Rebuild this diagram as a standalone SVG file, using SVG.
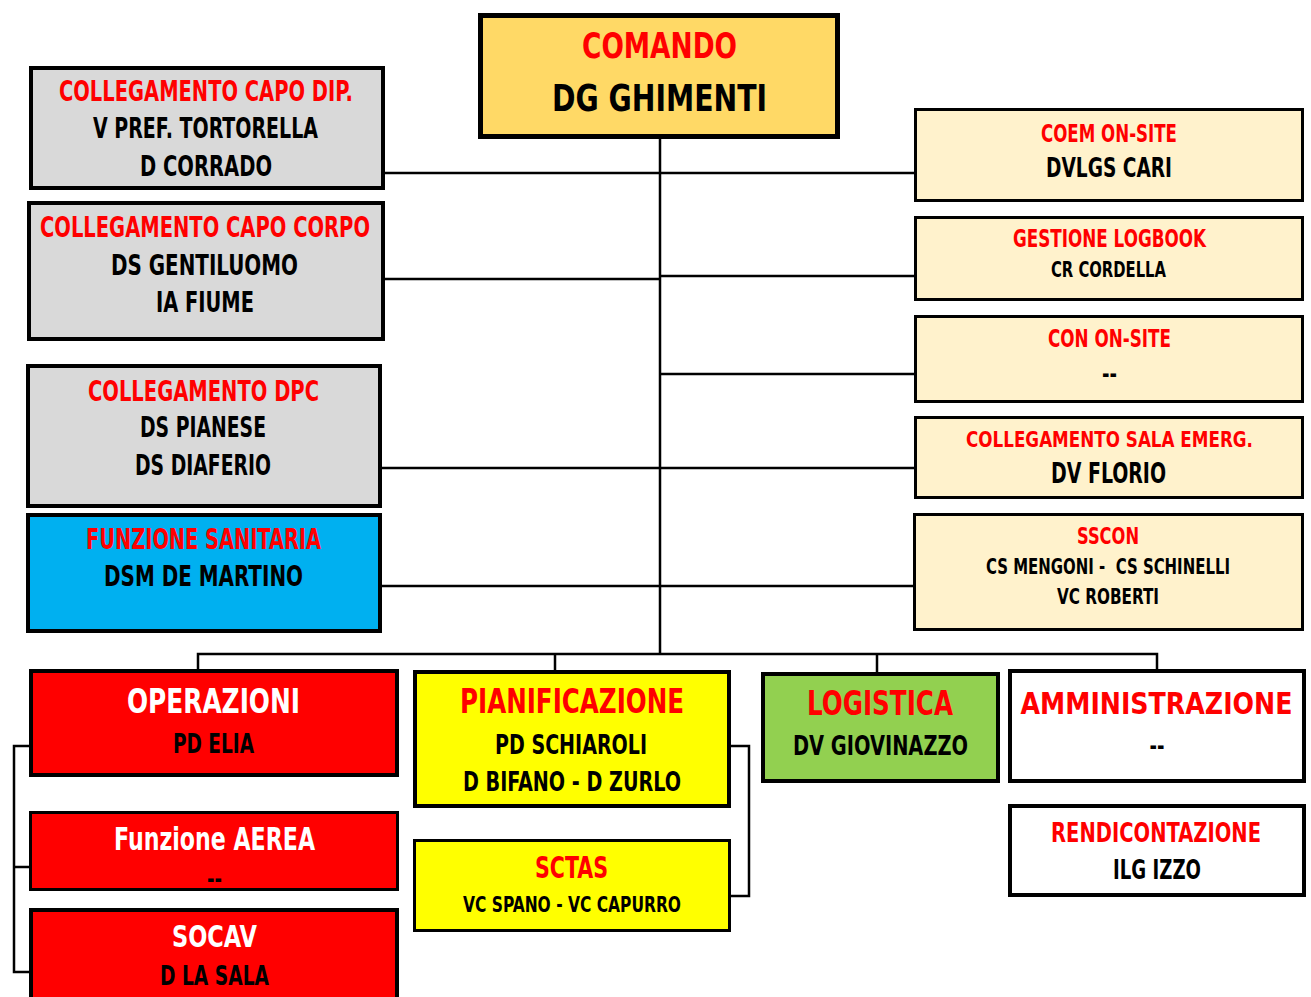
<svg xmlns="http://www.w3.org/2000/svg" width="1311" height="997" viewBox="0 0 1311 997">
<style>
text{font-family:"Liberation Sans Narrow","DejaVu Sans Condensed","Liberation Sans",sans-serif;font-weight:bold;text-anchor:middle}
.r{fill:#FF0000}.k{fill:#000}.w{fill:#FFFFFF}
.b5{stroke:#000;stroke-width:5}.b4{stroke:#000;stroke-width:4}.b3{stroke:#000;stroke-width:3}
.c{stroke:#000;stroke-width:2.5;fill:none}
</style>
<rect width="1311" height="997" fill="#FFFFFF"/>
<g id="connectors">
<path class="c" d="M660 139V654"/>
<path class="c" d="M384 173H660M384 279H660M382 468H660M382 586H660"/>
<path class="c" d="M660 173H914M660 276H914M660 374H914M660 468H914M660 586H913"/>
<path class="c" d="M198 670V654H1157V670M555 654V670M877 654V672"/>
<path class="c" d="M29 746H14V972H29M14 867H29"/>
<path class="c" d="M731 746H749V896H731"/>
</g>
<g id="comando">
<rect class="b5" x="480.5" y="15.5" width="357" height="121" fill="#FFD966"/>
<text class="r" x="659.5" y="58" font-size="35" textLength="155" lengthAdjust="spacingAndGlyphs">COMANDO</text>
<text class="k" x="659.5" y="111" font-size="38" textLength="215" lengthAdjust="spacingAndGlyphs">DG GHIMENTI</text>
</g>
<g id="capo-dip">
<rect class="b4" x="31" y="68" width="352" height="120" fill="#D9D9D9"/>
<text class="r" x="206" y="101" font-size="28" textLength="294" lengthAdjust="spacingAndGlyphs">COLLEGAMENTO CAPO DIP.</text>
<text class="k" x="205.5" y="138" font-size="28" textLength="225" lengthAdjust="spacingAndGlyphs">V PREF. TORTORELLA</text>
<text class="k" x="206" y="176" font-size="28" textLength="132" lengthAdjust="spacingAndGlyphs">D CORRADO</text>
</g>
<g id="capo-corpo">
<rect class="b4" x="29" y="203" width="354" height="136" fill="#D9D9D9"/>
<text class="r" x="205" y="237" font-size="28" textLength="330" lengthAdjust="spacingAndGlyphs">COLLEGAMENTO CAPO CORPO</text>
<text class="k" x="204.5" y="275" font-size="28" textLength="187" lengthAdjust="spacingAndGlyphs">DS GENTILUOMO</text>
<text class="k" x="205" y="312" font-size="28" textLength="98" lengthAdjust="spacingAndGlyphs">IA FIUME</text>
</g>
<g id="dpc">
<rect class="b4" x="28" y="366" width="352" height="140" fill="#D9D9D9"/>
<text class="r" x="203.5" y="401" font-size="28" textLength="231" lengthAdjust="spacingAndGlyphs">COLLEGAMENTO DPC</text>
<text class="k" x="203" y="437" font-size="28" textLength="126" lengthAdjust="spacingAndGlyphs">DS PIANESE</text>
<text class="k" x="203" y="475" font-size="28" textLength="136" lengthAdjust="spacingAndGlyphs">DS DIAFERIO</text>
</g>
<g id="sanitaria">
<rect class="b4" x="28" y="515" width="352" height="116" fill="#00B0F0"/>
<text class="r" x="203.5" y="549" font-size="28" textLength="235" lengthAdjust="spacingAndGlyphs">FUNZIONE SANITARIA</text>
<text class="k" x="203.5" y="586" font-size="28" textLength="199" lengthAdjust="spacingAndGlyphs">DSM DE MARTINO</text>
</g>
<g id="coem">
<rect class="b3" x="915.5" y="109.5" width="387" height="91" fill="#FFF2CC"/>
<text class="r" x="1109" y="142" font-size="24" textLength="136" lengthAdjust="spacingAndGlyphs">COEM ON-SITE</text>
<text class="k" x="1109" y="177" font-size="27" textLength="126" lengthAdjust="spacingAndGlyphs">DVLGS CARI</text>
</g>
<g id="logbook">
<rect class="b3" x="915.5" y="217.5" width="387" height="82" fill="#FFF2CC"/>
<text class="r" x="1109.5" y="247" font-size="24" textLength="193" lengthAdjust="spacingAndGlyphs">GESTIONE LOGBOOK</text>
<text class="k" x="1108.5" y="277" font-size="21" textLength="115" lengthAdjust="spacingAndGlyphs">CR CORDELLA</text>
</g>
<g id="con">
<rect class="b3" x="915.5" y="316.5" width="387" height="85" fill="#FFF2CC"/>
<text class="r" x="1109.5" y="347" font-size="24" textLength="123" lengthAdjust="spacingAndGlyphs">CON ON-SITE</text>
<text class="k" x="1109.5" y="382" font-size="24" textLength="15" lengthAdjust="spacingAndGlyphs">--</text>
</g>
<g id="sala">
<rect class="b3" x="915.5" y="417.5" width="387" height="80" fill="#FFF2CC"/>
<text class="r" x="1109.5" y="447" font-size="22" textLength="287" lengthAdjust="spacingAndGlyphs">COLLEGAMENTO SALA EMERG.</text>
<text class="k" x="1108.5" y="483" font-size="28" textLength="115" lengthAdjust="spacingAndGlyphs">DV FLORIO</text>
</g>
<g id="sscon">
<rect class="b3" x="914.5" y="514.5" width="388" height="115" fill="#FFF2CC"/>
<text class="r" x="1108" y="544" font-size="23" textLength="62" lengthAdjust="spacingAndGlyphs">SSCON</text>
<text class="k" x="1108" y="574" font-size="22" textLength="244" lengthAdjust="spacingAndGlyphs" xml:space="preserve">CS MENGONI -  CS SCHINELLI</text>
<text class="k" x="1108" y="604" font-size="22" textLength="102" lengthAdjust="spacingAndGlyphs">VC ROBERTI</text>
</g>
<g id="operazioni">
<rect class="b4" x="31" y="671" width="366" height="104" fill="#FF0000"/>
<text class="w" x="213.5" y="713" font-size="33" textLength="173" lengthAdjust="spacingAndGlyphs">OPERAZIONI</text>
<text class="k" x="213.5" y="753" font-size="26" textLength="81" lengthAdjust="spacingAndGlyphs">PD ELIA</text>
</g>
<g id="aerea">
<rect class="b3" x="30.5" y="812.5" width="367" height="77" fill="#FF0000"/>
<text class="w" x="214.5" y="850" font-size="32" textLength="201" lengthAdjust="spacingAndGlyphs">Funzione AEREA</text>
<text class="k" x="214.5" y="887" font-size="24" textLength="15" lengthAdjust="spacingAndGlyphs">--</text>
</g>
<g id="socav">
<rect class="b4" x="31" y="910" width="366" height="100" fill="#FF0000"/>
<text class="w" x="214.5" y="947" font-size="30" textLength="85" lengthAdjust="spacingAndGlyphs">SOCAV</text>
<text class="k" x="214.5" y="985" font-size="26" textLength="109" lengthAdjust="spacingAndGlyphs">D LA SALA</text>
</g>
<g id="pianificazione">
<rect class="b4" x="415" y="672" width="314" height="134" fill="#FFFF00"/>
<text class="r" x="572" y="713" font-size="33" textLength="224" lengthAdjust="spacingAndGlyphs">PIANIFICAZIONE</text>
<text class="k" x="571" y="754" font-size="26" textLength="152" lengthAdjust="spacingAndGlyphs">PD SCHIAROLI</text>
<text class="k" x="572" y="791" font-size="26" textLength="218" lengthAdjust="spacingAndGlyphs">D BIFANO - D ZURLO</text>
</g>
<g id="sctas">
<rect class="b3" x="414.5" y="840.5" width="315" height="90" fill="#FFFF00"/>
<text class="r" x="571.5" y="878" font-size="30" textLength="73" lengthAdjust="spacingAndGlyphs">SCTAS</text>
<text class="k" x="572" y="912" font-size="21" textLength="218" lengthAdjust="spacingAndGlyphs">VC SPANO - VC CAPURRO</text>
</g>
<g id="logistica">
<rect class="b4" x="763" y="674" width="235" height="107" fill="#92D050"/>
<text class="r" x="880" y="715" font-size="34" textLength="146" lengthAdjust="spacingAndGlyphs">LOGISTICA</text>
<text class="k" x="880.5" y="755" font-size="27" textLength="175" lengthAdjust="spacingAndGlyphs">DV GIOVINAZZO</text>
</g>
<g id="amministrazione">
<rect class="b4" x="1010" y="671" width="294" height="110" fill="#FFFFFF"/>
<text class="r" x="1156.5" y="714" font-size="30" textLength="272" lengthAdjust="spacingAndGlyphs">AMMINISTRAZIONE</text>
<text class="k" x="1157" y="754" font-size="24" textLength="15" lengthAdjust="spacingAndGlyphs">--</text>
</g>
<g id="rendicontazione">
<rect class="b4" x="1010" y="806" width="294" height="89" fill="#FFFFFF"/>
<text class="r" x="1156" y="842" font-size="27" textLength="210" lengthAdjust="spacingAndGlyphs">RENDICONTAZIONE</text>
<text class="k" x="1157" y="879" font-size="26" textLength="88" lengthAdjust="spacingAndGlyphs">ILG IZZO</text>
</g>
</svg>
